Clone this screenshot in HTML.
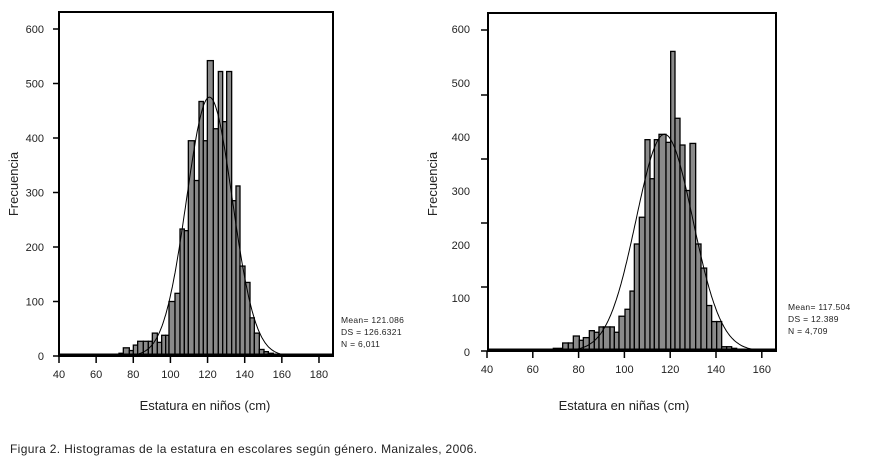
<!DOCTYPE html>
<html><head><meta charset="utf-8"><style>
html,body{margin:0;padding:0;background:#fff;width:895px;height:473px;overflow:hidden}
svg{display:block}
text{font-family:"Liberation Sans",sans-serif;fill:#222}
</style></head><body>
<svg id="s" width="895" height="473" xmlns="http://www.w3.org/2000/svg"></svg>
<script>
const s=document.getElementById('s');let h='';
function chart(o){
  const {L,R,T,B,y0,y600,x0,pxcm,bars,mean,sd,peak,xt,ox}=o;
  const yv=v=>y0-(y0-y600)*v/600;
  bars.forEach(b=>{const x1=ox+b[0]/3,x2=ox+b[1]/3,y=yv(b[2]);
    h+=`<rect x="${x1}" y="${y}" width="${x2-x1}" height="${y0-y}" fill="#8a8a8a" stroke="#000" stroke-width="1.3"/>`;});
  h+=`<line x1="${L}" y1="${y0-1}" x2="${R}" y2="${y0-1}" stroke="#000" stroke-width="3"/>`;
  let p='';for(let c=40;c<=200;c+=0.5){const x=x0+(c-40)*pxcm;if(x>R)break;const v=peak*Math.exp(-0.5*((c-mean)/sd)**2);p+=(p?'L':'M')+x.toFixed(1)+','+yv(v).toFixed(1);}
  h+=`<path d="${p}" fill="none" stroke="#000" stroke-width="1"/>`;
  h+=`<rect x="${L}" y="${T}" width="${R-L}" height="${B-T}" fill="none" stroke="#000" stroke-width="2"/>`;
  xt.forEach(c=>{const x=x0+(c-40)*pxcm;h+=`<line x1="${x}" y1="${B}" x2="${x}" y2="${B+7}" stroke="#000" stroke-width="1.5"/><text x="${x}" y="${B+22}" font-size="11" text-anchor="middle">${c}</text>`;});
}
chart({L:59,R:333,T:12,B:356,y0:356,y600:29,x0:59,pxcm:1.857,mean:121,sd:12.3,peak:475,xt:[40,60,80,100,120,140,160,180],ox:0,
bars:[[357,370,5],[370,388,15],[388,400,10],[400,413,20],[413,430,27],[430,445,27],[445,457,27],[457,472,42],[472,485,25],[485,497,38],[497,507,38],[507,525,100],[525,540,115],[540,553,233],[553,565,230],[565,583,395],[583,597,322],[597,610,467],[610,622,395],[622,640,542],[640,655,417],[655,668,522],[668,680,430],[680,695,522],[695,708,285],[708,720,312],[720,735,165],[735,750,135],[750,763,70],[763,778,42],[778,792,12],[792,805,8],[805,820,5]]});
[0,100,200,300,400,500,600].forEach(v=>{const y=356-327*v/600;h+=`<line x1="53" y1="${y}" x2="59" y2="${y}" stroke="#000" stroke-width="1.5"/><text x="44" y="${y+4}" font-size="11" text-anchor="end">${v}</text>`;});
chart({L:488,R:776,T:13,B:351,y0:351,y600:30,x0:487,pxcm:2.29,mean:117.5,sd:12.4,peak:405,xt:[40,60,80,100,120,140,160],ox:440,
bars:[[340,368,5],[368,385,15],[385,400,15],[400,418,28],[418,430,20],[430,448,25],[448,463,38],[463,477,35],[477,490,45],[490,510,45],[510,523,45],[523,537,35],[537,555,65],[555,570,78],[570,583,112],[583,598,200],[598,615,250],[615,630,395],[630,643,322],[643,657,395],[657,678,405],[678,692,390],[692,705,560],[705,720,435],[720,735,385],[735,750,300],[750,767,388],[767,783,200],[783,800,155],[800,815,85],[815,830,55],[830,845,55],[845,860,8],[860,875,8],[875,890,5]]});
[30,95,159,223,287,351].forEach(y=>{h+=`<line x1="481" y1="${y}" x2="488" y2="${y}" stroke="#000" stroke-width="1.5"/>`;});
[[600,33],[500,87],[400,141],[300,195],[200,249],[100,302],[0,356]].forEach(a=>{h+=`<text x="470" y="${a[1]}" font-size="11" text-anchor="end">${a[0]}</text>`;});
h+=`<text transform="translate(18,184) rotate(-90)" font-size="13" text-anchor="middle">Frecuencia</text>`;
h+=`<text transform="translate(437,184) rotate(-90)" font-size="13" text-anchor="middle">Frecuencia</text>`;
h+=`<text x="205" y="410" font-size="13" text-anchor="middle">Estatura en niños (cm)</text>`;
h+=`<text x="624" y="410" font-size="13" text-anchor="middle">Estatura en niñas (cm)</text>`;
h+=`<text font-size="8.5" fill="#444" letter-spacing="0.3"><tspan x="341" y="323">Mean= 121.086</tspan><tspan x="341" y="335">DS = 126.6321</tspan><tspan x="341" y="347">N = 6,011</tspan></text>`;
h+=`<text font-size="8.5" fill="#444" letter-spacing="0.3"><tspan x="788" y="310">Mean= 117.504</tspan><tspan x="788" y="322">DS = 12.389</tspan><tspan x="788" y="334">N = 4,709</tspan></text>`;
h+=`<text x="10" y="453" font-size="12" fill="#444" textLength="467" lengthAdjust="spacing">Figura 2. Histogramas de la estatura en escolares según género. Manizales, 2006.</text>`;
s.innerHTML=h;
</script>
</body></html>
